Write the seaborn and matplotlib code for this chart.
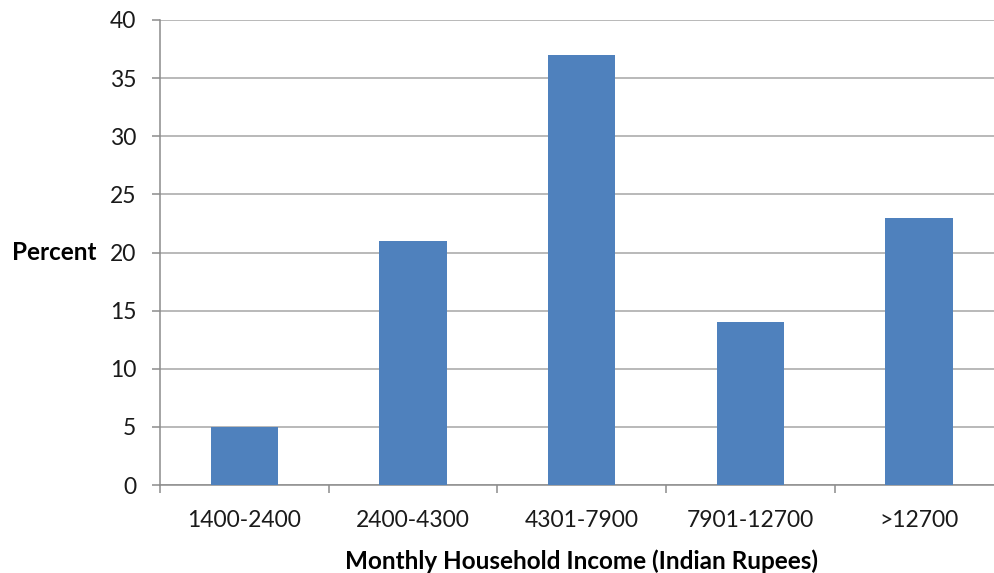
import matplotlib
matplotlib.use("Agg")
import matplotlib.pyplot as plt
import seaborn as sns
import pandas as pd
from matplotlib.ticker import FixedLocator

categories = ["1400-2400", "2400-4300", "4301-7900", "7901-12700", ">12700"]
percent = [5, 21, 37, 14, 23]
yticks = [0, 5, 10, 15, 20, 25, 30, 35, 40]

sns.set_theme(style="white")
plt.rcParams['font.family'] = ['Lato', 'DejaVu Sans']

df = pd.DataFrame({"Income": categories, "Percent": percent})

fig = plt.figure(figsize=(9.95, 5.73), dpi=100)
ax = fig.add_axes([160/995, (573-485)/573, 843.5/995, 465/573])

grid_c = "#a6a6a6"
sns.barplot(data=df, x="Income", y="Percent", color="#4F81BD", width=0.4,
            saturation=1, ax=ax, zorder=3, linewidth=0)
ax.set_ylim(0, 40)
ax.set_xlim(-0.5, 4.5)
ax.set_yticks(yticks)
ax.yaxis.grid(True, color=grid_c, linewidth=1.1, zorder=0)
ax.set_axisbelow(True)

for s in ["top", "right"]:
    ax.spines[s].set_visible(False)
for s in ["left", "bottom"]:
    ax.spines[s].set_color("#8c8c8c")
    ax.spines[s].set_linewidth(1.1)

ax.tick_params(axis="y", which="major", length=6, width=1.1, color="#8c8c8c",
               pad=11, labelsize=16.5, labelcolor="#1a1a1a", left=True)
ax.xaxis.set_minor_locator(FixedLocator([-0.5, 0.5, 1.5, 2.5, 3.5, 4.5]))
ax.tick_params(axis="x", which="minor", length=5.5, width=1.1, color="#8c8c8c",
               bottom=True)
ax.tick_params(axis="x", which="major", length=0, pad=18, labelsize=16.5,
               labelcolor="#1a1a1a")

ax.set_ylabel("Percent", rotation=0, ha="right", va="center",
              fontsize=17.5, fontweight="bold", color="#000000")
ax.yaxis.set_label_coords((97-160)/843.5, (485-253)/465)
ax.set_xlabel("Monthly Household Income (Indian Rupees)", fontsize=17.5,
              fontweight="bold", color="#000000", va="center")
ax.xaxis.set_label_coords(0.5, (485-561)/465)

fig.savefig("out.png", dpi=100)
